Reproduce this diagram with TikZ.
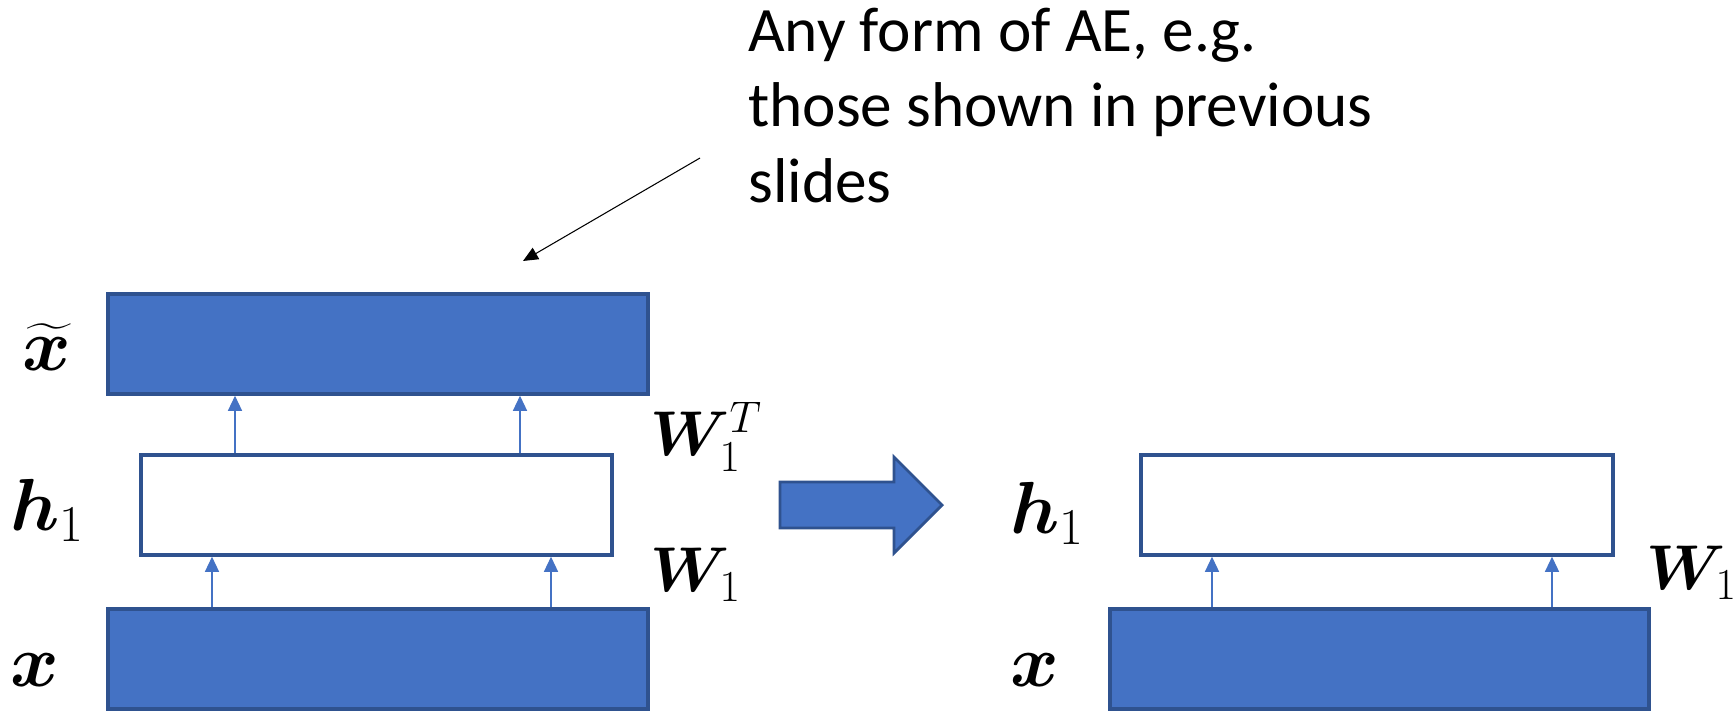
\RequirePackage{fix-cm}
\documentclass[tikz,border=0pt]{standalone}
\usepackage{amsmath,bm}
\usepackage{fontspec}
\setmainfont{Carlito}
\usetikzlibrary{arrows.meta}
\definecolor{LayerBlue}{RGB}{68,114,196}
\definecolor{LayerEdge}{RGB}{47,82,143}
\tikzset{
	layerfill/.style={draw=LayerEdge, fill=LayerBlue, line width=2pt, minimum height=2.0cm, inner sep=0pt},
	layerempty/.style={draw=LayerEdge, fill=white, line width=2pt, minimum height=2.0cm, inner sep=0pt},
	conn/.style={LayerBlue, line width=0.7pt, -{Triangle[length=3mm, width=2.8mm]}},
	pointer/.style={black, line width=0.6pt, -{Triangle[length=3mm, width=2.6mm]}},
	bigarrow/.style={draw=LayerEdge, fill=LayerBlue, line width=1.6pt, line join=miter},
	note/.style={font=\fontsize{36}{43}\selectfont, align=left, inner sep=0pt},
	sym/.style={font=\fontsize{42}{50}\selectfont, inner sep=0pt},
	symw/.style={font=\fontsize{36}{43}\selectfont, inner sep=0pt, anchor=west},
}

\begin{document}
\begin{tikzpicture}
		\useasboundingbox (0,0) rectangle (34.68,14.22);
		
		% left stack: input, hidden, reconstruction
		\node[layerfill, minimum width=10.8cm] (inL) at (7.56,1.04) {};
		\node[layerempty, minimum width=9.42cm] (hidL) at (7.53,4.12) {};
		\node[layerfill, minimum width=10.8cm] (recL) at (7.56,7.34) {};
		
		% encoder / decoder connections
		\coordinate (encA) at (4.24,0);
		\coordinate (encB) at (11.02,0);
		\coordinate (decA) at (4.70,0);
		\coordinate (decB) at (10.40,0);
		\draw[conn] (inL.north -| encA) -- (hidL.south -| encA);
		\draw[conn] (inL.north -| encB) -- (hidL.south -| encB);
		\draw[conn] (hidL.north -| decA) -- (recL.south -| decA);
		\draw[conn] (hidL.north -| decB) -- (recL.south -| decB);
		
		% left labels
		\node[sym] (labRec) at (0.94,7.28) {$\widetilde{\bm{x}}$};
		\node[sym] (labHidL) at (0.94,4.02) {$\bm{h}_1$};
		\node[sym] (labInL) at (0.70,0.82) {$\bm{x}$};
		\node[symw] (labWT) at (13.0,5.48) {$\bm{W}_1^{T}$};
		\node[symw] (labWL) at (13.0,2.72) {$\bm{W}_1$};
		
		% block arrow between the two stacks
		\draw[bigarrow] (15.6,4.58) -- (17.88,4.58) -- (17.88,5.08) -- (18.84,4.12)
			-- (17.88,3.16) -- (17.88,3.66) -- (15.6,3.66) -- cycle;
		
		% right stack: encoder kept
		\node[layerfill, minimum width=10.78cm] (inR) at (27.59,1.04) {};
		\node[layerempty, minimum width=9.44cm] (hidR) at (27.54,4.12) {};
		\coordinate (keepA) at (24.24,0);
		\coordinate (keepB) at (31.04,0);
		\draw[conn] (inR.north -| keepA) -- (hidR.south -| keepA);
		\draw[conn] (inR.north -| keepB) -- (hidR.south -| keepB);
		
		\node[sym] (labHidR) at (20.94,3.96) {$\bm{h}_1$};
		\node[sym] (labInR) at (20.70,0.82) {$\bm{x}$};
		\node[symw] (labWR) at (32.92,2.76) {$\bm{W}_1$};
		
		% remark with pointer
		\node[note, anchor=north west] (remark) at (14.96,14.07)
		{Any form of AE, e.g.\\those shown in previous\\slides};
		\coordinate (remarkTail) at (14.0,11.06);
		\coordinate (remarkTip) at (10.46,9.0);
		\draw[pointer] (remarkTail) -- (remarkTip);
	\end{tikzpicture}
\end{document}
